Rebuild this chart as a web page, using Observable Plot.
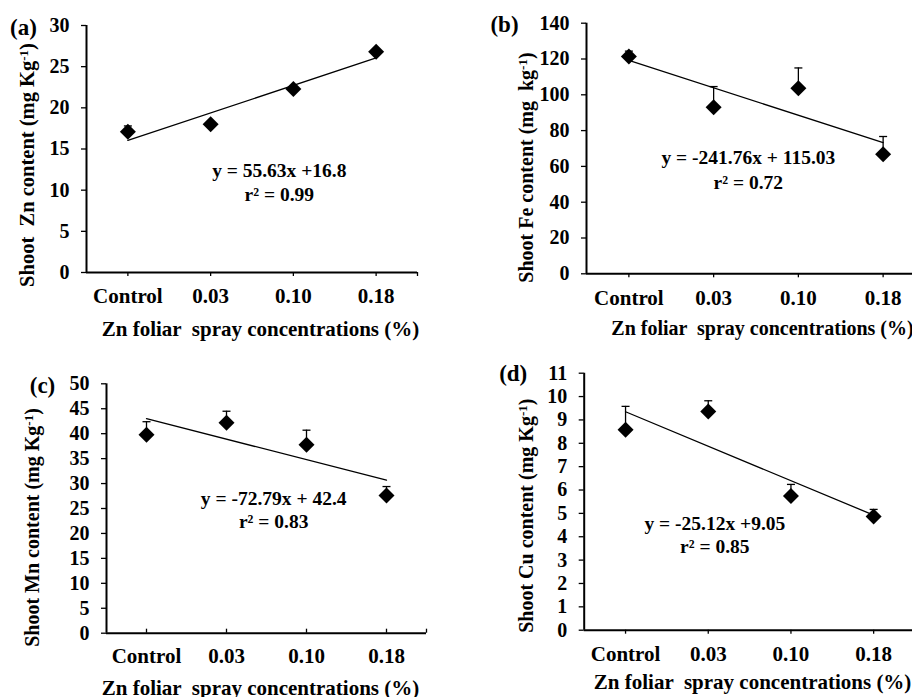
<!DOCTYPE html>
<html><head><meta charset="utf-8">
<script src="https://cdn.jsdelivr.net/npm/d3@7"></script>
<script src="https://cdn.jsdelivr.net/npm/@observablehq/plot@0.6"></script>
<style>
body{margin:0;background:#fff;}
#wrap{position:relative;width:912px;height:697px;overflow:hidden;background:#fff;}
#wrap svg{position:absolute;overflow:visible;}
#wrap svg, #wrap svg text{font-family:"Liberation Serif","Times New Roman",serif !important;font-weight:bold;}
</style></head><body><div id="wrap"></div>
<script>
// ---- data ----
const categories = ["Control", "0.03", "0.10", "0.18"];
const znValues = [17.1, 18.0, 22.3, 26.8];
const znErrors = [0.7, 0.3, 0.3, 0.3];
const feValues = [121.4, 93.1, 103.7, 66.8];
const feErrors = [3.0, 11.5, 11.3, 9.9];
const mnValues = [39.8, 42.2, 37.8, 27.6];
const mnErrors = [2.6, 2.3, 2.9, 1.8];
const cuValues = [8.58, 9.36, 5.74, 4.87];
const cuErrors = [1.0, 0.46, 0.5, 0.3];
const panelTags = ["(a)", "(b)", "(c)", "(d)"];
const yLabels = ["Shoot  Zn content (mg Kg-1)", "Shoot Fe content (mg  kg-1)", "Shoot Mn content (mg Kg-1)", "Shoot Cu content (mg Kg-1)"];
const yMaxes = [30, 140, 50, 11];
const yTickSteps = [5, 20, 5, 1];
const equations = ["y = 55.63x +16.8", "y = -241.76x + 115.03", "y = -72.79x + 42.4", "y = -25.12x +9.05"];
const rSquared = ["r² = 0.99", "r² = 0.72", "r² = 0.83", "r² = 0.85"];
const eqX = [2.33, 1.91, 2.09, 1.58];   // annotation anchor, category-index units
const eqY = [11.05, 58.8, 24.9, 4.1];   // annotation anchor, value units
const xTitle = "Zn foliar  spray concentrations (%)";

const seriesValues = [znValues, feValues, mnValues, cuValues];
const seriesErrors = [znErrors, feErrors, mnErrors, cuErrors];

// ---- layout (not data) ----
const layout = [
  {left: 0,   top: 0,   width: 456, height: 340, mL: 86,    mR: 39,   mT: 25,   mB: 68,   inside: false, tickPad: 16, xtDx: 8.5, xtDy: 63,   xtFs: 21, ylDx: -59, ylDy: 16, ylFs: 20.5, tagDx: -63, tagDy: 2,  lh: 1.2},
  {left: 456, top: 0,   width: 470, height: 340, mL: 130,   mR: 1,    mT: 22.7, mB: 66.7, inside: false, tickPad: 16, xtDx: 6.5, xtDy: 60.7, xtFs: 20, ylDx: -60, ylDy: 19, ylFs: 20,   tagDx: -82, tagDy: 1,  lh: 1.25},
  {left: 0,   top: 340, width: 456, height: 357, mL: 106,   mR: 30,   mT: 43.3, mB: 64.3, inside: true,  tickPad: 15, xtDx: -6,  xtDy: 61.3, xtFs: 21, ylDx: -74, ylDy: 19, ylFs: 20,   tagDx: -64, tagDy: 2,  lh: 1.2},
  {left: 456, top: 340, width: 470, height: 357, mL: 127.7, mR: 11.5, mT: 32.7, mB: 67.3, inside: false, tickPad: 16, xtDx: 3,   xtDy: 58.3, xtFs: 21, ylDx: -58, ylDy: 14, ylFs: 20,   tagDx: -71, tagDy: 0,  lh: 1.15}
];

const FONT = "'Liberation Serif', 'Times New Roman', serif";
const capSymbol = {
  draw(ctx, size) {
    const r = Math.sqrt(size / Math.PI);
    ctx.moveTo(-r, 0); ctx.lineTo(r, 0);
  }
};

const wrap = document.getElementById("wrap");

seriesValues.forEach((vals, p) => {
  const L = layout[p];
  const data = vals.map((v, i) => ({pos: i + 0.5, v, e: seriesErrors[p][i], cat: categories[i]}));
  const centers = categories.map((c, i) => i + 0.5);
  const tickPositions = [...centers, categories.length];
  const yTicks = d3.range(0, yMaxes[p] + yTickSteps[p] / 2, yTickSteps[p]);

  const chart = Plot.plot({
    width: L.width, height: L.height,
    marginLeft: L.mL, marginRight: L.mR, marginTop: L.mT, marginBottom: L.mB,
    style: {fontFamily: FONT, fontSize: "20px", fontWeight: "bold", color: "black", background: "transparent", overflow: "visible"},
    x: {domain: [0, categories.length], axis: null},
    y: {domain: [0, yMaxes[p]], axis: null},
    marks: [
      // x tick marks
      Plot.axisX(tickPositions, {tickSize: 4, dy: L.inside ? -4 : 0, tickFormat: () => "", strokeWidth: 1.3, label: null}),
      // x tick labels
      Plot.axisX(centers, {tickSize: 0, tickPadding: L.tickPad, tickFormat: d => categories[Math.floor(d)], fontSize: 21, fontFamily: FONT, label: null}),
      // y axis
      Plot.axisY(yTicks, {tickSize: 5, tickPadding: 12, fontSize: 20, fontFamily: FONT, strokeWidth: 1.3, label: null}),
      Plot.ruleX([0], {strokeWidth: 2}),
      Plot.ruleY([0], {strokeWidth: 2}),
      // trend line
      Plot.linearRegressionY(data, {x: "pos", y: "v", ci: 0, stroke: "black", strokeWidth: 1.3}),
      // error bars (upper)
      Plot.ruleX(data, {x: "pos", y1: "v", y2: d => d.v + d.e, stroke: "black", strokeWidth: 1.3}),
      Plot.dot(data, {x: "pos", y: d => d.v + d.e, symbol: capSymbol, r: 4, stroke: "black", strokeWidth: 1.3, fill: "none"}),
      // diamonds
      Plot.dot(data, {x: "pos", y: "v", symbol: "diamond2", r: 7.2, fill: "black", stroke: null}),
      // equation
      Plot.text([equations[p] + "\n" + rSquared[p]], {x: () => eqX[p], y: () => eqY[p], fontSize: 19.5, fontFamily: FONT, lineHeight: L.lh, textAnchor: "middle", lineAnchor: "middle"}),
      // panel tag
      Plot.text([panelTags[p]], {frameAnchor: "top-left", dx: L.tagDx, dy: L.tagDy, fontSize: 23, fontFamily: FONT, textAnchor: "middle", lineAnchor: "middle"}),
      // y label
      Plot.text([yLabels[p]], {frameAnchor: "left", rotate: -90, dx: L.ylDx, dy: L.ylDy, fontSize: L.ylFs, fontFamily: FONT, textAnchor: "middle", lineAnchor: "middle"}),
      // x title
      Plot.text([xTitle], {frameAnchor: "bottom", dx: L.xtDx, dy: L.xtDy, fontSize: L.xtFs, fontFamily: FONT, textAnchor: "middle", lineAnchor: "bottom"})
    ]
  });
  chart.style.left = L.left + "px";
  chart.style.top = L.top + "px";
  // superscript "-1" in the y label
  d3.select(chart).selectAll("text").each(function() {
    const t = this.textContent;
    if (t === yLabels[p]) {
      const idx = t.lastIndexOf("-1)");
      const sel = d3.select(this);
      sel.style("white-space", "pre");
      sel.text(t.slice(0, idx));
      sel.append("tspan").attr("dy", "-0.45em").attr("font-size", "13px").text("-1");
      sel.append("tspan").attr("dy", "0.3em").text(")");
    }
    if (t === xTitle) d3.select(this).style("white-space", "pre");
  });
  wrap.appendChild(chart);
});
</script>
</body></html>
